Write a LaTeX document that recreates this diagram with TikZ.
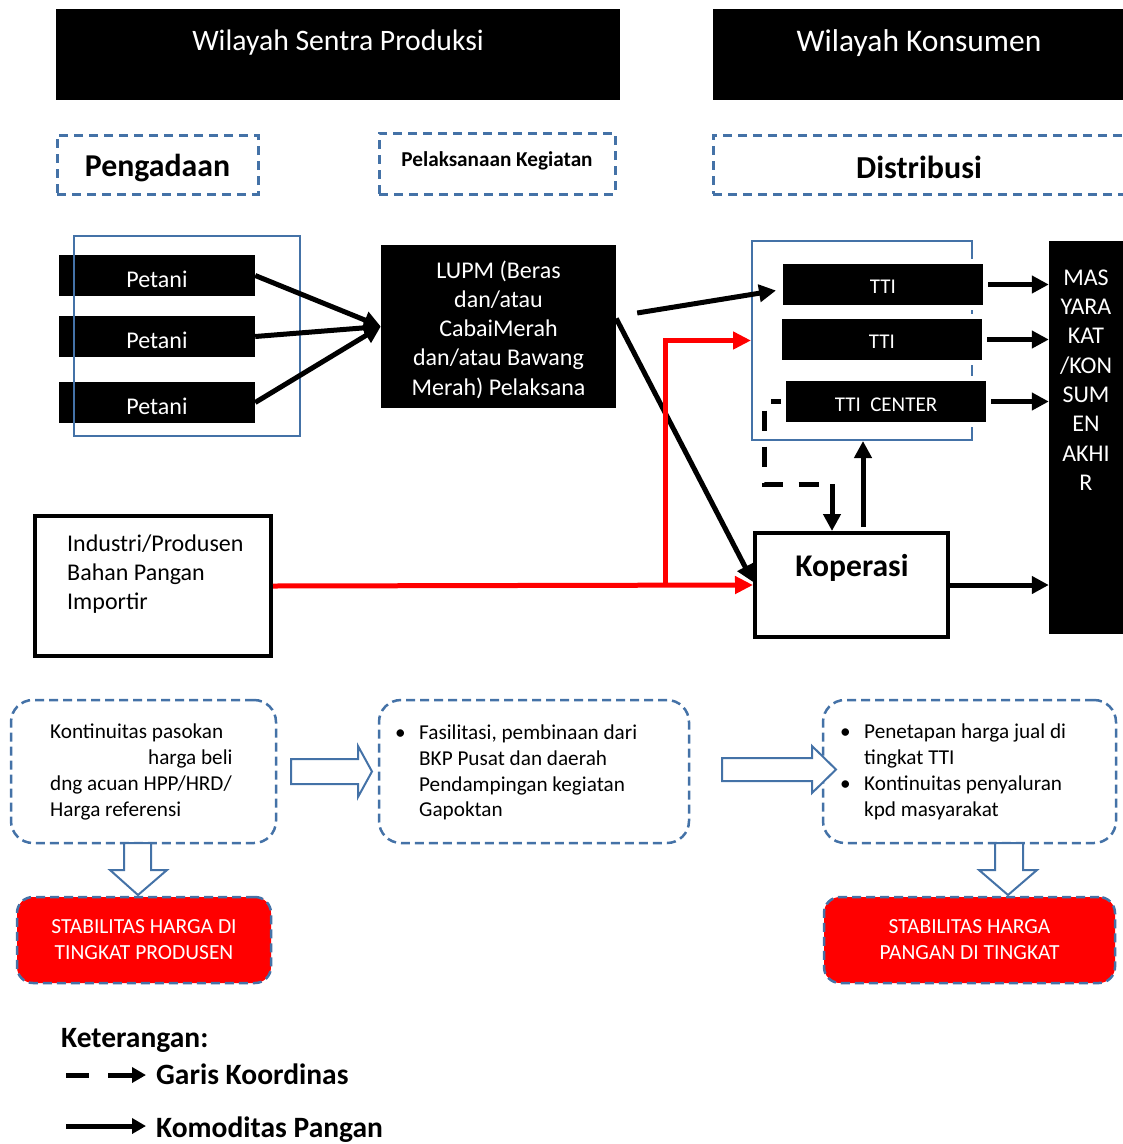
\documentclass[tikz,border=0pt]{standalone}
\usepackage{fontspec}
\setmainfont{Carlito}
\usetikzlibrary{arrows.meta,calc}
\definecolor{frameblue}{RGB}{68,114,167}
\definecolor{alertred}{RGB}{255,0,0}
% shift a label down without changing the box it reports
\newcommand{\lowered}[2]{\raisebox{-#1pt}[\height][\depth]{#2}}
\begin{document}
\begin{tikzpicture}[x=1pt,y=-1pt,
  blackbox/.style={fill=black, draw=none, inner sep=0pt, text=white},
  tticell/.style={fill=black, draw=white, line width=5pt, inner sep=0pt, text=white,
    font=\fontsize{21}{25}\selectfont},
  phasebox/.style={draw=frameblue, line width=3pt, dash pattern=on 9pt off 6pt, inner sep=0pt},
  notebox/.style={draw=frameblue, line width=2.5pt, dash pattern=on 9pt off 5pt,
    rounded corners=22pt, inner sep=0pt},
  goalbox/.style={fill=alertred, draw=frameblue, line width=2.5pt, dash pattern=on 9pt off 5pt,
    rounded corners=16pt, inner sep=0pt, text=white, align=center,
    font=\fontsize{21.5}{26}\selectfont},
  groupframe/.style={draw=frameblue, line width=2pt, inner sep=0pt},
  plainbox/.style={draw=black, line width=4pt, fill=white, inner sep=0pt},
  flow/.style={line width=5pt, -{Triangle[length=17pt,width=17pt]}},
  redflow/.style={draw=alertred, line width=5pt},
  coord/.style={line width=5pt, dash pattern=on 20pt off 16pt, dash phase=10pt},
  hollow/.style={draw=frameblue, line width=2pt, fill=white, line join=miter},
  txt/.style={inner sep=0pt, font=\fontsize{24}{29.3}\selectfont},
  notetxt/.style={inner sep=0pt, align=left, anchor=west, font=\fontsize{21.2}{25.8}\selectfont},
]
\useasboundingbox (0,0) rectangle (1123,1144);

% ---------------- headers ----------------
\node[blackbox, minimum width=564pt, minimum height=91pt] (hdrprod) at (338,54.5) {};
\node[txt, text=white, font=\fontsize{29.7}{34}\selectfont] (hdrprodtxt) at (338,43) {Wilayah Sentra Produksi};
\node[blackbox, minimum width=420pt, minimum height=91pt] (hdrkons) at (923,54.5) {};
\node[txt, text=white, font=\fontsize{31.5}{36}\selectfont] (hdrkonstxt) at (919,43) {Wilayah Konsumen};

\node[phasebox, minimum width=201pt, minimum height=59pt, font=\bfseries\fontsize{31.8}{36}\selectfont]
  (pengadaan) at (157.5,164.5) {\lowered{4}{Pengadaan}};
\node[phasebox, minimum width=236pt, minimum height=61pt] (pelaks) at (497,163.5) {};
\node[txt, font=\bfseries\fontsize{21.2}{25}\selectfont] (pelakstxt) at (497,161) {Pelaksanaan Kegiatan};
\node[phasebox, minimum width=430pt, minimum height=59pt] (distrib) at (928,164.5) {};
\node[txt, font=\bfseries\fontsize{32}{36}\selectfont] (distribtxt) at (919,167) {Distribusi};

% ---------------- production side ----------------
\node[blackbox, txt, text=white, minimum width=196pt, minimum height=41pt] (p1) at (157,275.5) {\lowered{3.5}{Petani}};
\node[blackbox, txt, text=white, minimum width=196pt, minimum height=41pt] (p2) at (157,336.5) {\lowered{3.5}{Petani}};
\node[blackbox, txt, text=white, minimum width=196pt, minimum height=41pt] (p3) at (157,402.5) {\lowered{3.5}{Petani}};
\node[groupframe, minimum width=226pt, minimum height=200pt] (petaniframe) at (187,336) {};

\node[blackbox, minimum width=235pt, minimum height=163pt] (lupm) at (498.5,326.5) {};
\node[txt, text=white, align=center] (lupmtxt) at (498.5,329.5)
  {LUPM (Beras\\dan/atau\\CabaiMerah\\dan/atau Bawang\\Merah) Pelaksana};

\node[plainbox, minimum width=236pt, minimum height=140pt] (industri) at (153,586) {};
\node[txt, align=left, anchor=west] (industritxt) at (67,574)
  {Industri/Produsen\\Bahan Pangan\\Importir};

% ---------------- consumer side ----------------
\node[groupframe, minimum width=220pt, minimum height=199pt] (ttiframe) at (862,340.5) {};
\node[tticell, minimum width=205pt, minimum height=46pt] (tti1) at (883,284.5) {\lowered{2}{TTI}};
\node[tticell, minimum width=205pt, minimum height=46pt] (tti2) at (882,339.5) {\lowered{2.5}{TTI}};
\node[tticell, minimum width=205pt, minimum height=46pt] (tticenter) at (886,401.5) {\lowered{3}{TTI~~CENTER}};

\node[blackbox, minimum width=80pt, minimum height=393pt] (masy) at (1089,437.5) {};
\node[txt, text=white, align=center] (masytxt) at (1086,380)
  {MAS\\YARA\\KAT\\/KON\\SUM\\EN\\AKHI\\R};

\node[plainbox, minimum width=193pt, minimum height=104pt] (kop) at (851.5,585) {};
\node[txt, font=\bfseries\fontsize{31.6}{36}\selectfont] (koptxt) at (852,568) {Koperasi};

% ---------------- commodity flows ----------------
\draw[flow] (p1.east) -- (lupm.west);
\draw[flow] (p2.east) -- (lupm.west);
\draw[flow] (p3.east) -- (lupm.west);
\draw[flow] ($(lupm.east)+(21,-13.5)$) -- ($(tti1.west)+(-2,6)$);
\draw[flow] ($(lupm.east)+(0,-8)$) -- ($(kop.west)+(0,-3)$);

\draw[flow] (tti1.east) -- (masy.west |- tti1.east);
\draw[flow] (tti2.east) -- (masy.west |- tti2.east);
\draw[flow] (tticenter.east) -- (masy.west |- tticenter.east);
\draw[flow] (kop.east) -- (masy.west |- kop.east);
\coordinate (kopup) at (863,527);
\draw[flow] (kopup) -- (kopup |- ttiframe.south);

% imports (red)
\coordinate (redjoint) at (665,585);
\draw[redflow, -{Triangle[length=18pt,width=17pt]}] (industri.east) -- (kop.west);
\draw[redflow, -{Triangle[length=18pt,width=17pt]}] (redjoint) -- (redjoint |- ttiframe.west) -- (ttiframe.west);

% coordination (dashed)
\coordinate (coordbend) at (764,484);
\coordinate (coorddrop) at (832,484);
\draw[coord] (tticenter.west) -- (coordbend |- tticenter.west) -- (coordbend) -- (coorddrop);
\draw[flow] (coorddrop) -- (coorddrop |- kop.north);

% ---------------- notes ----------------
\node[notebox, minimum width=265pt, minimum height=143pt] (note1) at (143.5,771.5) {};
\node[notetxt] (note1txt) at (50,772)
  {Kontinuitas pasokan\\\hspace*{98pt}harga beli\\dng acuan HPP/HRD/\\Harga referensi};
\node[notebox, minimum width=310pt, minimum height=143pt] (note2) at (534,771.5) {};
\node[notetxt] (note2txt) at (395,772.5)
  {\makebox[24pt][l]{\textbullet}Fasilitasi, pembinaan dari\\\hspace*{24pt}BKP Pusat dan daerah\\\hspace*{24pt}Pendampingan kegiatan\\\hspace*{24pt}Gapoktan};
\node[notebox, minimum width=293pt, minimum height=143pt] (note3) at (969.5,771.5) {};
\node[notetxt] (note3txt) at (840,772)
  {\makebox[24pt][l]{\textbullet}Penetapan harga jual di\\\hspace*{24pt}tingkat TTI\\\makebox[24pt][l]{\textbullet}Kontinuitas penyaluran\\\hspace*{24pt}kpd masyarakat};

% hollow arrows between the notes
\draw[hollow] (291,759) -- (358,759) -- (358,746) -- (372,771.5) -- (358,797) -- (358,784) -- (291,784) -- cycle;
\draw[hollow] (722,758) -- (812,758) -- (812,746) -- (836,769.5) -- (812,793) -- (812,781) -- (722,781) -- cycle;
\draw[hollow] (124,843) -- (151,843) -- (151,870) -- (167,870) -- (138,895) -- (110,870) -- (124,870) -- cycle;
\draw[hollow] (995,843) -- (1023,843) -- (1023,870) -- (1037,870) -- (1008,895) -- (979,870) -- (995,870) -- cycle;

\node[goalbox, minimum width=254pt, minimum height=86pt] (goal1) at (144,940)
  {STABILITAS HARGA DI\\TINGKAT PRODUSEN};
\node[goalbox, minimum width=291pt, minimum height=86pt] (goal2) at (969.5,940)
  {STABILITAS HARGA\\PANGAN DI TINGKAT};

% ---------------- legend ----------------
\node[txt, anchor=west, font=\bfseries\fontsize{29.5}{34}\selectfont] (legtitle) at (61,1040) {Keterangan:};
\node[txt, anchor=west, font=\bfseries\fontsize{29.5}{34}\selectfont] (legcoord) at (156,1074) {Garis Koordinas};
\node[txt, anchor=west, font=\bfseries\fontsize{29.5}{34}\selectfont] (legflow) at (156,1130) {Komoditas Pangan};
\coordinate (legdasha) at (66,1075);
\coordinate (legdashb) at (89,1075);
\coordinate (legdashc) at (108,1075);
\coordinate (legdashd) at (146,1075);
\coordinate (legflowa) at (66,1126);
\coordinate (legflowb) at (146,1126);
\draw[line width=5pt] (legdasha) -- (legdashb);
\draw[line width=5pt, -{Triangle[length=14pt,width=15pt]}] (legdashc) -- (legdashd);
\draw[line width=5pt, -{Triangle[length=14pt,width=15pt]}] (legflowa) -- (legflowb);
\end{tikzpicture}
\end{document}
